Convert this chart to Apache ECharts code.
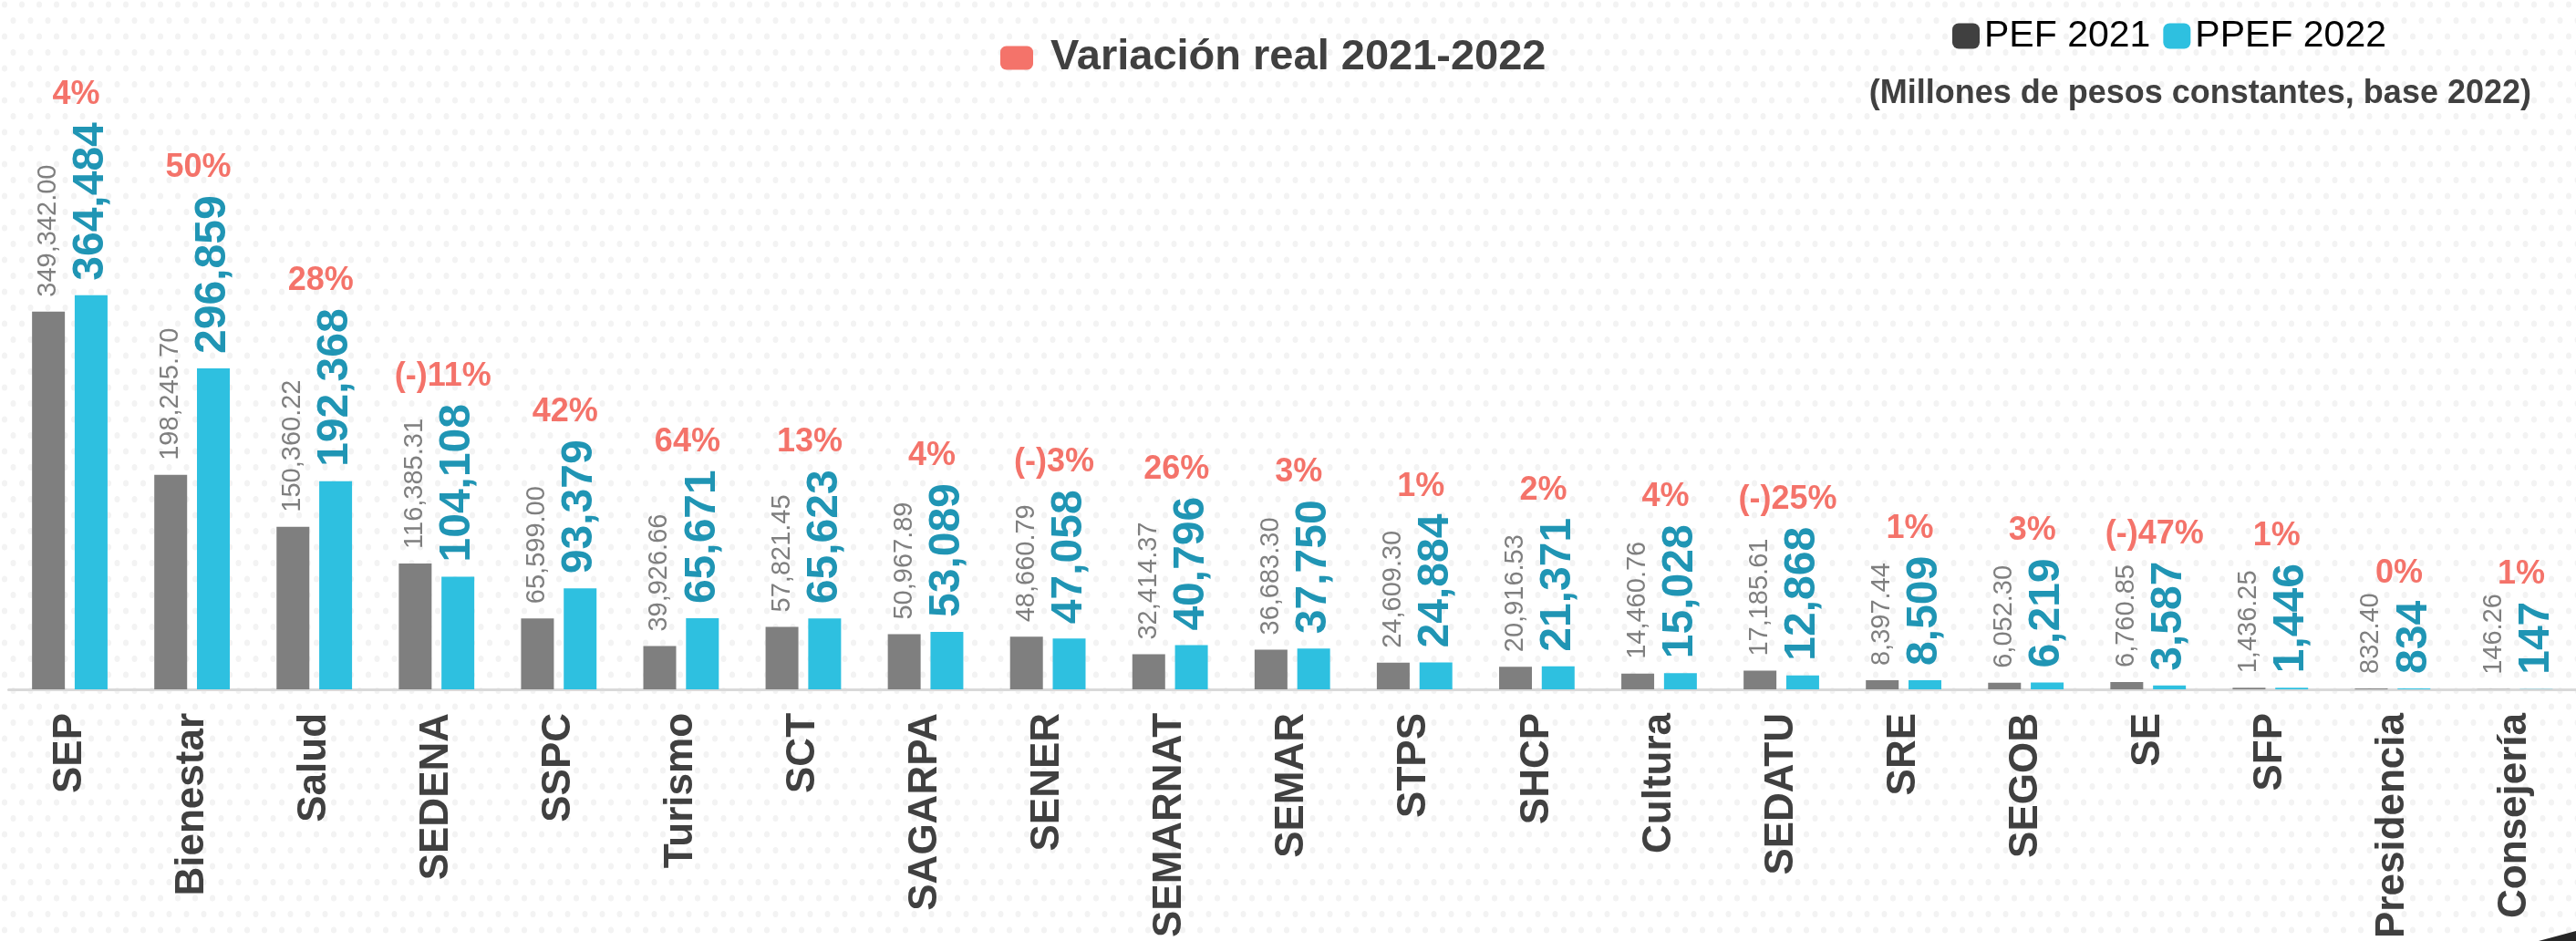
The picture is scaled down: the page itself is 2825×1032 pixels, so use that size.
<!DOCTYPE html>
<html>
<head>
<meta charset="utf-8">
<script src="https://cdn.jsdelivr.net/npm/echarts@6/dist/echarts.min.js"></script>
<style>
  html, body { margin: 0; padding: 0; background: #fff; }
  #chart { width: 2825px; height: 1032px; }
</style>
</head>
<body>
<div id="chart"></div>
<script>
// datos (millones de pesos constantes, base 2022)
const categorias = ['SEP', 'Bienestar', 'Salud', 'SEDENA', 'SSPC', 'Turismo', 'SCT', 'SAGARPA', 'SENER',
  'SEMARNAT', 'SEMAR', 'STPS', 'SHCP', 'Cultura', 'SEDATU', 'SRE', 'SEGOB', 'SE', 'SFP', 'Presidencia', 'Consejería'];
const pef2021 = [349342.00, 198245.70, 150360.22, 116385.31, 65599.00, 39926.66, 57821.45, 50967.89, 48660.79,
  32414.37, 36683.30, 24609.30, 20916.53, 14460.76, 17185.61, 8397.44, 6052.30, 6760.85, 1436.25, 832.40, 146.26];
const ppef2022 = [364484, 296859, 192368, 104108, 93379, 65671, 65623, 53089, 47058,
  40796, 37750, 24884, 21371, 15028, 12868, 8509, 6219, 3587, 1446, 834, 147];
const variacion = ['4%', '50%', '28%', '(-)11%', '42%', '64%', '13%', '4%', '(-)3%',
  '26%', '3%', '1%', '2%', '4%', '(-)25%', '1%', '3%', '(-)47%', '1%', '0%', '1%'];

const FONT = '"Liberation Sans", Arial, sans-serif';
const LABEL_DIST = 16;
const BLUE_FONT = 'bold 48px ' + FONT;

// medir texto para colocar el porcentaje encima de la etiqueta azul
const ctx = document.createElement('canvas').getContext('2d');
function anchoTexto(txt, font) {
  ctx.font = font;
  return ctx.measureText(txt).width;
}
function fmtEntero(v) { return v.toLocaleString('en-US'); }
function fmtDec(v) { return v.toLocaleString('en-US', { minimumFractionDigits: 2, maximumFractionDigits: 2 }); }

// fondo punteado
const tile = document.createElement('canvas');
tile.width = 19; tile.height = 35;
const tctx = tile.getContext('2d');
tctx.fillStyle = '#f3f3f3';
[[5, 5], [14.5, 22.5]].forEach(function (p) {
  tctx.beginPath();
  tctx.ellipse(p[0], p[1], 3, 3.5, 0, 0, Math.PI * 2);
  tctx.fill();
});

const chart = echarts.init(document.getElementById('chart'));
const option = {
  backgroundColor: '#fff',
  animation: false,
  graphic: [
    { type: 'rect', z: -10, silent: true, shape: { x: 0, y: 0, width: 2825, height: 1032 },
      style: { fill: { image: tile, repeat: 'repeat' } } },
    { type: 'polygon', z: 10, silent: true, shape: { points: [[2784, 1032], [2825, 1021], [2825, 1032]] },
      style: { fill: '#262626' } }
  ],
  title: {
    text: '(Millones de pesos constantes, base 2022)',
    right: 44, top: 80,
    textStyle: { fontFamily: FONT, fontWeight: 'bold', fontSize: 36, color: '#404040' }
  },
  legend: [{
    left: 1092, top: 35,
    itemWidth: 36, itemHeight: 26,
    textStyle: { fontFamily: FONT, fontWeight: 'bold', fontSize: 47, color: '#404040', padding: [0, 0, 0, 14] },
    data: [{ name: 'Variación real 2021-2022', icon: 'roundRect', itemStyle: { color: '#f4736a' } }]
  }, {
    left: 2136, top: 14,
    itemWidth: 30, itemHeight: 28, itemGap: 14,
    textStyle: { fontFamily: FONT, fontSize: 41, color: '#000' },
    data: [
      { name: 'PEF 2021', icon: 'roundRect', itemStyle: { color: '#404040' } },
      { name: 'PPEF 2022', icon: 'roundRect', itemStyle: { color: '#2ec0e0' } }
    ]
  }],
  grid: { left: 9.5, width: 2835, top: 163, bottom: 271, containLabel: false },
  xAxis: {
    type: 'category',
    data: categorias,
    axisLine: { lineStyle: { color: '#d9d9d9', width: 3 } },
    axisTick: { show: false },
    axisLabel: {
      interval: 0, rotate: 90, margin: 26,
      fontFamily: FONT, fontWeight: 'bold', fontSize: 44, color: '#404040'
    }
  },
  yAxis: {
    type: 'value', min: 0, max: 500000,
    show: false, splitLine: { show: false }
  },
  series: [{
    name: 'PEF 2021',
    type: 'bar',
    data: pef2021,
    barWidth: 36,
    barGap: '30%',
    itemStyle: { color: '#7f7f7f' },
    label: {
      show: true, position: 'top', rotate: 90, align: 'left', verticalAlign: 'middle',
      distance: LABEL_DIST,
      fontFamily: FONT, fontSize: 29, color: '#7f7f7f',
      formatter: function (p) { return fmtDec(p.value); }
    }
  }, {
    name: 'PPEF 2022',
    type: 'bar',
    data: ppef2022,
    barWidth: 36,
    itemStyle: { color: '#2ec0e0' },
    label: {
      show: true, position: 'top', rotate: 90, align: 'left', verticalAlign: 'middle',
      distance: LABEL_DIST,
      fontFamily: FONT, fontWeight: 'bold', fontSize: 48, color: '#2095b4',
      formatter: function (p) { return fmtEntero(p.value); }
    }
  }, {
    name: 'Variación real 2021-2022',
    type: 'custom',
    itemStyle: { color: '#f4736a' },
    data: ppef2022.map(function (v, i) { return [i, v]; }),
    renderItem: function (params, api) {
      const i = api.value(0);
      const pt = api.coord([i, api.value(1)]);
      const w = anchoTexto(fmtEntero(ppef2022[i]), BLUE_FONT);
      return {
        type: 'text',
        x: pt[0] + 7,
        y: pt[1] - LABEL_DIST - w - 12,
        style: {
          text: variacion[i],
          fill: '#f4736a',
          font: 'bold 36px ' + FONT,
          align: 'center',
          verticalAlign: 'bottom'
        }
      };
    }
  }]
};
chart.setOption(option);
</script>
</body>
</html>
